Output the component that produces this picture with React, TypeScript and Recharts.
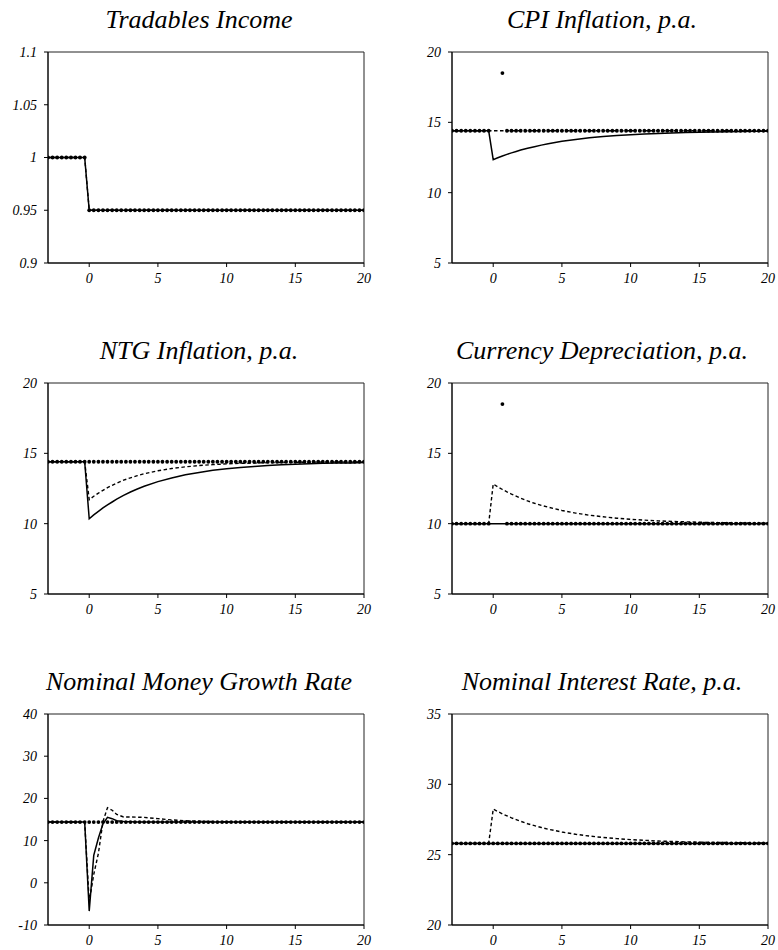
import { LineChart, Line, XAxis, YAxis, ReferenceArea } from 'recharts'

// quarterly-ish grid used by the marker (steady state) series, step 1/3
const T_MARK = [
  -3, -2.67, -2.33, -2, -1.67, -1.33, -1, -0.67, -0.33,
  0, 0.33, 0.67, 1, 1.33, 1.67, 2, 2.33, 2.67, 3, 3.33, 3.67, 4, 4.33, 4.67,
  5, 5.33, 5.67, 6, 6.33, 6.67, 7, 7.33, 7.67, 8, 8.33, 8.67, 9, 9.33, 9.67,
  10, 10.33, 10.67, 11, 11.33, 11.67, 12, 12.33, 12.67, 13, 13.33, 13.67,
  14, 14.33, 14.67, 15, 15.33, 15.67, 16, 16.33, 16.67, 17, 17.33, 17.67,
  18, 18.33, 18.67, 19, 19.33, 19.67, 20,
]

// grid for the solid / dashed paths
const T_LINE = [
  -3, -0.33, 0, 0.33, 0.67, 1, 1.33, 1.67, 2, 2.5, 3, 3.5, 4,
  5, 6, 7, 8, 9, 10, 11, 12, 13, 14, 15, 16, 17, 18, 19, 20,
]

const X_TICKS = [0, 5, 10, 15, 20]

// Tradables Income
const income_mark = [
  1, 1, 1, 1, 1, 1, 1, 1, 1,
  0.95, 0.95, 0.95, 0.95, 0.95, 0.95, 0.95, 0.95, 0.95, 0.95, 0.95, 0.95, 0.95, 0.95, 0.95,
  0.95, 0.95, 0.95, 0.95, 0.95, 0.95, 0.95, 0.95, 0.95, 0.95, 0.95, 0.95, 0.95, 0.95, 0.95,
  0.95, 0.95, 0.95, 0.95, 0.95, 0.95, 0.95, 0.95, 0.95, 0.95, 0.95, 0.95,
  0.95, 0.95, 0.95, 0.95, 0.95, 0.95, 0.95, 0.95, 0.95, 0.95, 0.95, 0.95,
  0.95, 0.95, 0.95, 0.95, 0.95, 0.95, 0.95,
]
const income_solid = [
  1, 1, 0.95, 0.95, 0.95, 0.95, 0.95, 0.95, 0.95, 0.95, 0.95, 0.95, 0.95,
  0.95, 0.95, 0.95, 0.95, 0.95, 0.95, 0.95, 0.95, 0.95, 0.95, 0.95, 0.95, 0.95, 0.95, 0.95, 0.95,
]
const income_dash = income_solid

// CPI Inflation
const cpi_mark = [
  14.4, 14.4, 14.4, 14.4, 14.4, 14.4, 14.4, 14.4, 14.4,
  null, null, 18.5, 14.4, 14.4, 14.4, 14.4, 14.4, 14.4, 14.4, 14.4, 14.4, 14.4, 14.4, 14.4,
  14.4, 14.4, 14.4, 14.4, 14.4, 14.4, 14.4, 14.4, 14.4, 14.4, 14.4, 14.4, 14.4, 14.4, 14.4,
  14.4, 14.4, 14.4, 14.4, 14.4, 14.4, 14.4, 14.4, 14.4, 14.4, 14.4, 14.4,
  14.4, 14.4, 14.4, 14.4, 14.4, 14.4, 14.4, 14.4, 14.4, 14.4, 14.4, 14.4,
  14.4, 14.4, 14.4, 14.4, 14.4, 14.4, 14.4,
]
const cpi_solid = [
  14.4, 14.4, 12.35, 12.48, 12.61, 12.72, 12.83, 12.93, 13.03, 13.16, 13.27, 13.38, 13.48,
  13.65, 13.78, 13.9, 13.99, 14.06, 14.12, 14.17, 14.21, 14.25, 14.28, 14.3, 14.32, 14.33, 14.35, 14.36, 14.36,
]
const cpi_dash = [
  14.4, 14.4, 14.4, 14.4, 14.4, 14.4, 14.4, 14.4, 14.4, 14.4, 14.4, 14.4, 14.4,
  14.4, 14.4, 14.4, 14.4, 14.4, 14.4, 14.4, 14.4, 14.4, 14.4, 14.4, 14.4, 14.4, 14.4, 14.4, 14.4,
]

// NTG Inflation
const ntg_mark = [
  14.4, 14.4, 14.4, 14.4, 14.4, 14.4, 14.4, 14.4, 14.4,
  14.4, 14.4, 14.4, 14.4, 14.4, 14.4, 14.4, 14.4, 14.4, 14.4, 14.4, 14.4, 14.4, 14.4, 14.4,
  14.4, 14.4, 14.4, 14.4, 14.4, 14.4, 14.4, 14.4, 14.4, 14.4, 14.4, 14.4, 14.4, 14.4, 14.4,
  14.4, 14.4, 14.4, 14.4, 14.4, 14.4, 14.4, 14.4, 14.4, 14.4, 14.4, 14.4,
  14.4, 14.4, 14.4, 14.4, 14.4, 14.4, 14.4, 14.4, 14.4, 14.4, 14.4, 14.4,
  14.4, 14.4, 14.4, 14.4, 14.4, 14.4, 14.4,
]
const ntg_solid = [
  14.4, 14.4, 10.35, 10.62, 10.87, 11.12, 11.34, 11.54, 11.74, 12.01, 12.25, 12.46, 12.66,
  12.99, 13.25, 13.47, 13.64, 13.79, 13.9, 14.0, 14.07, 14.14, 14.19, 14.23, 14.26, 14.29, 14.31, 14.32, 14.34,
]
const ntg_dash = [
  14.4, 14.4, 11.7, 11.95, 12.17, 12.37, 12.56, 12.73, 12.88, 13.09, 13.26, 13.41, 13.55,
  13.76, 13.92, 14.04, 14.13, 14.2, 14.25, 14.29, 14.31, 14.34, 14.35, 14.36, 14.37, 14.38, 14.38, 14.39, 14.39,
]

// Currency Depreciation
const dep_mark = [
  10, 10, 10, 10, 10, 10, 10, 10, 10,
  null, null, 18.5, 10, 10, 10, 10, 10, 10, 10, 10, 10, 10, 10, 10,
  10, 10, 10, 10, 10, 10, 10, 10, 10, 10, 10, 10, 10, 10, 10,
  10, 10, 10, 10, 10, 10, 10, 10, 10, 10, 10, 10,
  10, 10, 10, 10, 10, 10, 10, 10, 10, 10, 10, 10,
  10, 10, 10, 10, 10, 10, 10,
]
const dep_solid = [
  10, 10, 10, 10, 10, 10, 10, 10, 10, 10, 10, 10, 10,
  10, 10, 10, 10, 10, 10, 10, 10, 10, 10, 10, 10, 10, 10, 10, 10,
]
const dep_dash = [
  10, 10, 12.82, 12.62, 12.43, 12.26, 12.1, 11.95, 11.81, 11.62, 11.45, 11.3, 11.17,
  10.94, 10.75, 10.6, 10.49, 10.39, 10.31, 10.25, 10.2, 10.16, 10.13, 10.1, 10.08, 10.07, 10.05, 10.04, 10.03,
]

// Nominal Money Growth Rate
const money_mark = [
  14.4, 14.4, 14.4, 14.4, 14.4, 14.4, 14.4, 14.4, 14.4,
  14.4, 14.4, 14.4, 14.4, 14.4, 14.4, 14.4, 14.4, 14.4, 14.4, 14.4, 14.4, 14.4, 14.4, 14.4,
  14.4, 14.4, 14.4, 14.4, 14.4, 14.4, 14.4, 14.4, 14.4, 14.4, 14.4, 14.4, 14.4, 14.4, 14.4,
  14.4, 14.4, 14.4, 14.4, 14.4, 14.4, 14.4, 14.4, 14.4, 14.4, 14.4, 14.4,
  14.4, 14.4, 14.4, 14.4, 14.4, 14.4, 14.4, 14.4, 14.4, 14.4, 14.4, 14.4,
  14.4, 14.4, 14.4, 14.4, 14.4, 14.4, 14.4,
]
const money_solid = [
  14.4, 14.4, -6.7, 6.5, 10.6, 14.0, 15.5, 15.2, 14.7, 14.5, 14.45, 14.4, 14.4,
  14.4, 14.4, 14.4, 14.4, 14.4, 14.4, 14.4, 14.4, 14.4, 14.4, 14.4, 14.4, 14.4, 14.4, 14.4, 14.4,
]
const money_dash = [
  14.4, 14.4, -4.5, 2.0, 7.0, 14.5, 17.8, 17.2, 16.2, 15.6, 15.6, 15.55, 15.5,
  15.2, 14.9, 14.7, 14.6, 14.5, 14.45, 14.4, 14.4, 14.4, 14.4, 14.4, 14.4, 14.4, 14.4, 14.4, 14.4,
]

// Nominal Interest Rate
const rate_mark = [
  25.8, 25.8, 25.8, 25.8, 25.8, 25.8, 25.8, 25.8, 25.8,
  25.8, 25.8, 25.8, 25.8, 25.8, 25.8, 25.8, 25.8, 25.8, 25.8, 25.8, 25.8, 25.8, 25.8, 25.8,
  25.8, 25.8, 25.8, 25.8, 25.8, 25.8, 25.8, 25.8, 25.8, 25.8, 25.8, 25.8, 25.8, 25.8, 25.8,
  25.8, 25.8, 25.8, 25.8, 25.8, 25.8, 25.8, 25.8, 25.8, 25.8, 25.8, 25.8,
  25.8, 25.8, 25.8, 25.8, 25.8, 25.8, 25.8, 25.8, 25.8, 25.8, 25.8, 25.8,
  25.8, 25.8, 25.8, 25.8, 25.8, 25.8, 25.8,
]
const rate_solid = [
  25.8, 25.8, 25.8, 25.8, 25.8, 25.8, 25.8, 25.8, 25.8, 25.8, 25.8, 25.8, 25.8,
  25.8, 25.8, 25.8, 25.8, 25.8, 25.8, 25.8, 25.8, 25.8, 25.8, 25.8, 25.8, 25.8, 25.8, 25.8, 25.8,
]
const rate_dash = [
  25.8, 25.8, 28.24, 28.07, 27.9, 27.76, 27.62, 27.49, 27.37, 27.2, 27.06, 26.93, 26.81,
  26.61, 26.45, 26.32, 26.22, 26.14, 26.07, 26.02, 25.97, 25.94, 25.91, 25.89, 25.87, 25.86, 25.85, 25.84, 25.83,
]

const pts = (xs: number[], ys: (number | null)[]) => xs.map((t, i) => ({ t, v: ys[i] }))

const panels = [
  { title: 'Tradables Income', domain: [0.9, 1.1], ticks: [0.9, 0.95, 1, 1.05, 1.1], mark: income_mark, solid: income_solid, dash: income_dash },
  { title: 'CPI Inflation, p.a.', domain: [5, 20], ticks: [5, 10, 15, 20], mark: cpi_mark, solid: cpi_solid, dash: cpi_dash },
  { title: 'NTG Inflation, p.a.', domain: [5, 20], ticks: [5, 10, 15, 20], mark: ntg_mark, solid: ntg_solid, dash: ntg_dash },
  { title: 'Currency Depreciation, p.a.', domain: [5, 20], ticks: [5, 10, 15, 20], mark: dep_mark, solid: dep_solid, dash: dep_dash },
  { title: 'Nominal Money Growth Rate', domain: [-10, 40], ticks: [-10, 0, 10, 20, 30, 40], mark: money_mark, solid: money_solid, dash: money_dash },
  { title: 'Nominal Interest Rate, p.a.', domain: [20, 35], ticks: [20, 25, 30, 35], mark: rate_mark, solid: rate_solid, dash: rate_dash },
]

const FONT = 'Liberation Serif, DejaVu Serif, serif'
const tickStyle = { fontSize: 14, fontStyle: 'italic', fontFamily: FONT, fill: '#000' }

function Panel({ idx }: { idx: number }) {
  const p = panels[idx]
  const col = idx % 2
  const row = Math.floor(idx / 2)
  const left = col === 0 ? 0 : 389
  const yw = col === 0 ? 48 : 63
  const mr = col === 0 ? 25 : 10
  const plotTop = 52 + row * 331
  const titleX = col === 0 ? 199 : 213

  return (
    <>
      <div
        style={{
          position: 'absolute', left, top: plotTop - 52, width: 389, height: 40,
          fontFamily: FONT, fontStyle: 'italic',
        }}
      >
        <svg width={389} height={40}>
          <text x={titleX} y={28} textAnchor="middle" style={{ fontFamily: FONT, fontStyle: 'italic', fontSize: 26 }} fill="#000">
            {p.title}
          </text>
        </svg>
      </div>
      <div style={{ position: 'absolute', left, top: plotTop - 8, fontFamily: FONT }}>
        <LineChart width={389} height={241} margin={{ top: 8, right: mr, bottom: 0, left: 0 }}>
          <XAxis
            type="number"
            dataKey="t"
            domain={[-3, 20]}
            ticks={X_TICKS}
            allowDataOverflow
            height={22}
            tickSize={4}
            tickMargin={6}
            stroke="#000"
            tick={tickStyle}
          />
          <YAxis
            type="number"
            domain={p.domain}
            ticks={p.ticks}
            allowDataOverflow
            width={yw}
            tickSize={4}
            tickMargin={7}
            stroke="#000"
            tick={tickStyle}
          />
          <ReferenceArea x1={-3} x2={20} y1={p.domain[0]} y2={p.domain[1]} fill="none" stroke="#222" strokeWidth={1} />
          <Line data={pts(T_LINE, p.solid)} dataKey="v" stroke="#000" strokeWidth={1.5} dot={false} isAnimationActive={false} />
          <Line data={pts(T_LINE, p.dash)} dataKey="v" stroke="#000" strokeWidth={1.4} strokeDasharray="3.5 2.5" dot={false} isAnimationActive={false} />
          <Line
            data={pts(T_MARK, p.mark)}
            dataKey="v"
            stroke="none"
            dot={{ r: 1.9, fill: '#000', stroke: 'none' }}
            isAnimationActive={false}
          />
        </LineChart>
      </div>
    </>
  )
}

export default function App() {
  return (
    <div style={{ position: 'absolute', left: 0, top: 0, width: 778, height: 950, overflow: 'hidden', background: '#fff' }}>
      {panels.map((_, i) => (
        <Panel key={i} idx={i} />
      ))}
    </div>
  )
}
